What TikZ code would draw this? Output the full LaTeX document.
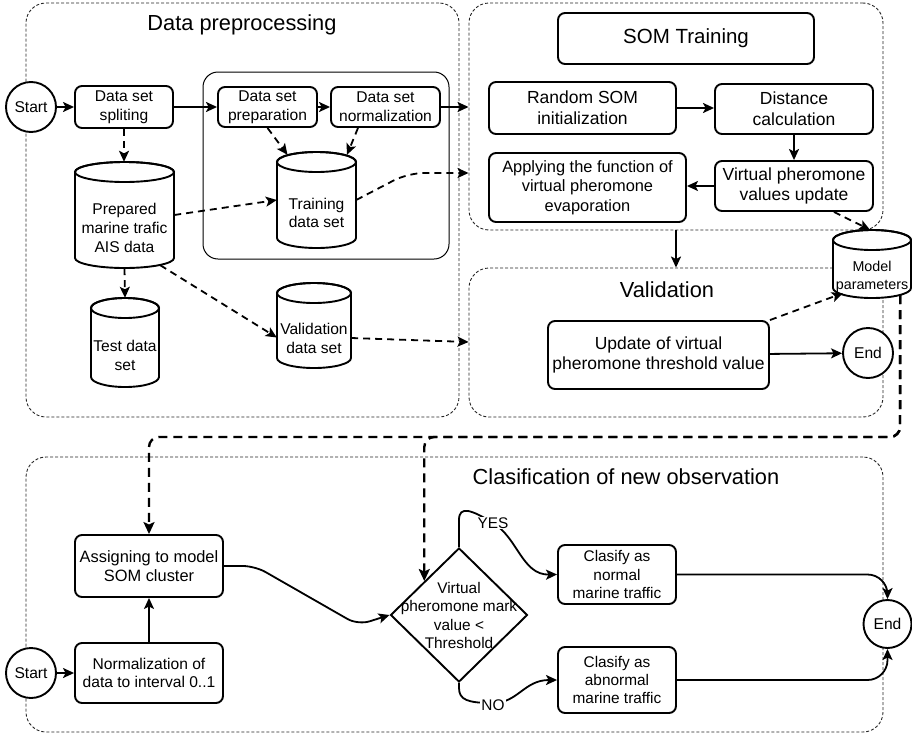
\documentclass[tikz,border=0pt]{standalone}
\usepackage{fontspec}
\setmainfont{Liberation Sans}
\usetikzlibrary{arrows.meta,shapes.geometric,calc}

\tikzset{
  ftT/.style={font=\fontsize{21.8}{26}\selectfont},
  ftS/.style={font=\fontsize{20.5}{24}\selectfont},
  ftM/.style={font=\fontsize{17.5}{20.7}\selectfont},
  ftA/.style={font=\fontsize{16.4}{19.5}\selectfont},
  ftB/.style={font=\fontsize{15.6}{18.7}\selectfont},
  ftC/.style={font=\fontsize{15.4}{18.3}\selectfont},
  ftP/.style={font=\fontsize{14.3}{17.7}\selectfont},
  boxline/.style={line width=1.9pt, draw=black},
  proc/.style={boxline, rounded corners=7pt, fill=white, inner sep=0pt, align=center},
  grp/.style={draw=black!85, line width=0.9pt, dash pattern=on 3pt off 2pt, rounded corners=20pt, inner sep=0pt},
  innergrp/.style={draw=black, line width=1pt, rounded corners=15pt, inner sep=0pt},
  term/.style={circle, boxline, fill=white, inner sep=0pt, minimum size=50pt},
  arr/.style={line width=1.8pt, -{Stealth[length=11pt,width=10pt,inset=2.5pt]}},
  darr/.style={arr, dash pattern=on 7pt off 5pt},
  tdarr/.style={line width=2.4pt, dash pattern=on 9pt off 6pt, -{Stealth[length=12pt,width=11pt,inset=2.5pt]}},
  lbl/.style={fill=white, inner sep=1pt, ftC},
}

% cylinder: name, L, T, R, B, font style, text
\newcommand{\dbnode}[7]{%
  \pgfmathsetmacro{\cyCx}{(#2+#4)/2}%
  \pgfmathsetmacro{\cyRx}{(#4-#2)/2}%
  \pgfmathsetmacro{\cyT}{#3+10}%
  \pgfmathsetmacro{\cyB}{#5-10}%
  \pgfmathsetmacro{\cyCy}{(#3+#5)/2}%
  \pgfmathsetmacro{\cyW}{#4-#2}%
  \pgfmathsetmacro{\cyH}{#5-#3}%
  \pgfmathsetmacro{\cyTy}{(#3+20+#5)/2+3}%
  \filldraw[boxline, fill=white] (#2,\cyT) -- (#2,\cyB)
     arc[start angle=180,end angle=0,x radius=\cyRx,y radius=10]
     -- (#4,\cyT)
     arc[start angle=0,end angle=-180,x radius=\cyRx,y radius=10] -- cycle;
  \draw[boxline] (\cyCx,\cyT) ellipse[x radius=\cyRx,y radius=10];
  \node[inner sep=0pt, minimum width=\cyW pt, minimum height=\cyH pt] (#1) at (\cyCx,\cyCy) {};
  \node[align=center, #6] (#1-t) at (\cyCx,\cyTy) {#7};
}

\begin{document}
\begin{tikzpicture}[x=1pt,y=-1pt]
\useasboundingbox (0,0) rectangle (912,736);

% groups
\node[grp, minimum width=433pt, minimum height=414pt] (prepg) at (242.5,210) {};
\node[grp, minimum width=414pt, minimum height=227pt] (somg) at (676,116.5) {};
\node[grp, minimum width=414pt, minimum height=149pt] (valg) at (676,342.5) {};
\node[grp, minimum width=857pt, minimum height=275pt] (clsg) at (454.5,594.5) {};
\node[innergrp, minimum width=246pt, minimum height=187pt] (inner) at (326,165.5) {};

% titles
\node[ftT] (t-prep) at (242,24.5) {Data preprocessing};
\node[ftT] (t-val) at (667,289.5) {Validation};
\node[ftT] (t-cls) at (626,477) {Clasification of new observation};
\node[proc, ftS, minimum width=256pt, minimum height=51pt] (somt) at (686,38.5) {SOM Training};

% data preprocessing
\node[term, ftB] (start1) at (31,107) {Start};
\node[proc, ftB, minimum width=98pt, minimum height=42pt] (split) at (124,107) {Data set\\spliting};
\node[proc, ftB, minimum width=99pt, minimum height=40pt] (prepa) at (267.5,107) {Data set\\preparation};
\node[proc, ftB, minimum width=109pt, minimum height=40pt] (norm) at (385.5,107) {Data set\\normalization};
\dbnode{prep}{75}{162}{174}{268}{ftB}{Prepared\\marine trafic\\AIS data}
\dbnode{train}{277}{152}{356}{248}{ftB}{Training\\data set}
\dbnode{test}{91}{298}{159}{387}{ftB}{Test data\\set}
\dbnode{valds}{277}{283}{351}{368}{ftB}{Validation\\data set}

% SOM training
\node[proc, ftM, minimum width=187pt, minimum height=52pt] (rand) at (582.5,108) {Random SOM\\initialization};
\node[proc, ftM, minimum width=158pt, minimum height=50pt] (dist) at (794,109) {Distance\\calculation};
\node[proc, ftM, minimum width=158pt, minimum height=50pt] (virt) at (794,186) {Virtual pheromone\\values update};
\node[proc, ftA, minimum width=197pt, minimum height=69pt] (appl) at (587.5,187.5) {Applying the function of\\virtual pheromone\\evaporation};
\dbnode{model}{833}{230}{911}{298}{ftP}{Model\\parameters}

% validation
\node[proc, ftM, minimum width=221pt, minimum height=68pt] (upd) at (658.5,355) {Update of virtual\\pheromone threshold value};
\node[term, ftB] (end1) at (868,353) {End};

% classification
\node[proc, ftA, minimum width=148pt, minimum height=62pt] (assign) at (149,566) {Assigning to model\\SOM cluster};
\node[proc, ftB, minimum width=148pt, minimum height=60pt] (normz) at (149,673) {Normalization of\\data to interval 0..1};
\node[term, ftB] (start2) at (31,673) {Start};
\node[diamond, boxline, fill=white, inner sep=0pt, minimum width=137pt, minimum height=134pt] (dia) at (459,615) {};
\node[align=center, ftC] (dia-t) at (459,615.5) {Virtual\\pheromone mark\\value <\\Threshold};
\node[proc, ftC, minimum width=118pt, minimum height=59pt] (cn) at (617,574.5) {Clasify as\\normal\\marine traffic};
\node[proc, ftC, minimum width=118pt, minimum height=66pt] (ca) at (617,680) {Clasify as\\abnormal\\marine traffic};
\node[term, ftB, minimum size=48pt] (end2) at (887.5,624) {End};

% edges: data preprocessing
\draw[arr] (start1) -- (split);
\draw[arr] (split) -- (prepa);
\draw[arr] (prepa) -- (norm);
\draw[arr] (norm.east) -- (norm.east -| somg.west);
\draw[darr] (split.south) -- (split.south |- prep.north);
\draw[darr] (prep.south) -- (test.north);
\draw[darr] (prep.east) -- (train.west);
\draw[darr] ($(prep.south east)+(-14,-3)$) -- ($(valds.west)+(0,12)$);
\draw[darr] (prepa.south) -- ($(train.north)+(-29,3)$);
\draw[darr] ($(norm.south)+(-27.5,0)$) -- ($(train.north)+(30.5,3)$);
\draw[darr, rounded corners=16pt] (train.east) -- (408,173) -- ($(somg.west)+(0,56.5)$);
\draw[darr] ($(valds.east)+(0,12.5)$) -- ($(valg.west)+(0,-0.5)$);

% edges: SOM training
\draw[arr] (rand.east) -- (rand.east -| dist.west);
\draw[arr] (dist) -- (virt);
\draw[arr] (virt.west) -- (virt.west -| appl.east);
\draw[darr] ($(virt.south east)+(-40,0)$) -- ($(model.north)+(-2,0)$);
\draw[arr] (somg.south) -- (valg.north);

% edges: validation
\draw[arr] (upd) -- (end1);
\draw[darr] (upd.north east) -- ($(model.south west)+(10,-5)$);

% model parameters to classification
\coordinate (mp) at ($(model.south east)+(-11,-3)$);
\coordinate (bus) at (900,437);
\draw[tdarr, rounded corners=10pt] (mp) -- (bus) -- (bus -| assign.north) -- (assign.north);
\draw[tdarr, rounded corners=10pt] (mp) -- (bus) -- (bus -| dia.north west) -- (dia.north west);

% edges: classification
\draw[arr] (start2) -- (normz);
\draw[arr] (normz) -- (assign);
\draw[arr, rounded corners=12pt] (assign.east) -- (255,566) -- (358,625) -- (dia.west);
\draw[arr] (dia.north) -- (459,520) .. controls (459,505) and (472,510) .. (493,523)
   .. controls (518,538) and (522,575) .. (cn.west);
\node[lbl] (yes) at (493,523) {YES};
\draw[arr] (dia.south) -- (459,688) .. controls (459,700) and (468,703) .. (493,703)
   .. controls (518,703) and (524,680) .. (ca.west);
\node[lbl] (no) at (493,705) {NO};
\draw[arr, rounded corners=20pt] (cn.east) -- (cn.east -| end2) -- (end2.north);
\draw[arr, rounded corners=20pt] (ca.east) -- (ca.east -| end2) -- (end2.south);

\end{tikzpicture}
\end{document}
